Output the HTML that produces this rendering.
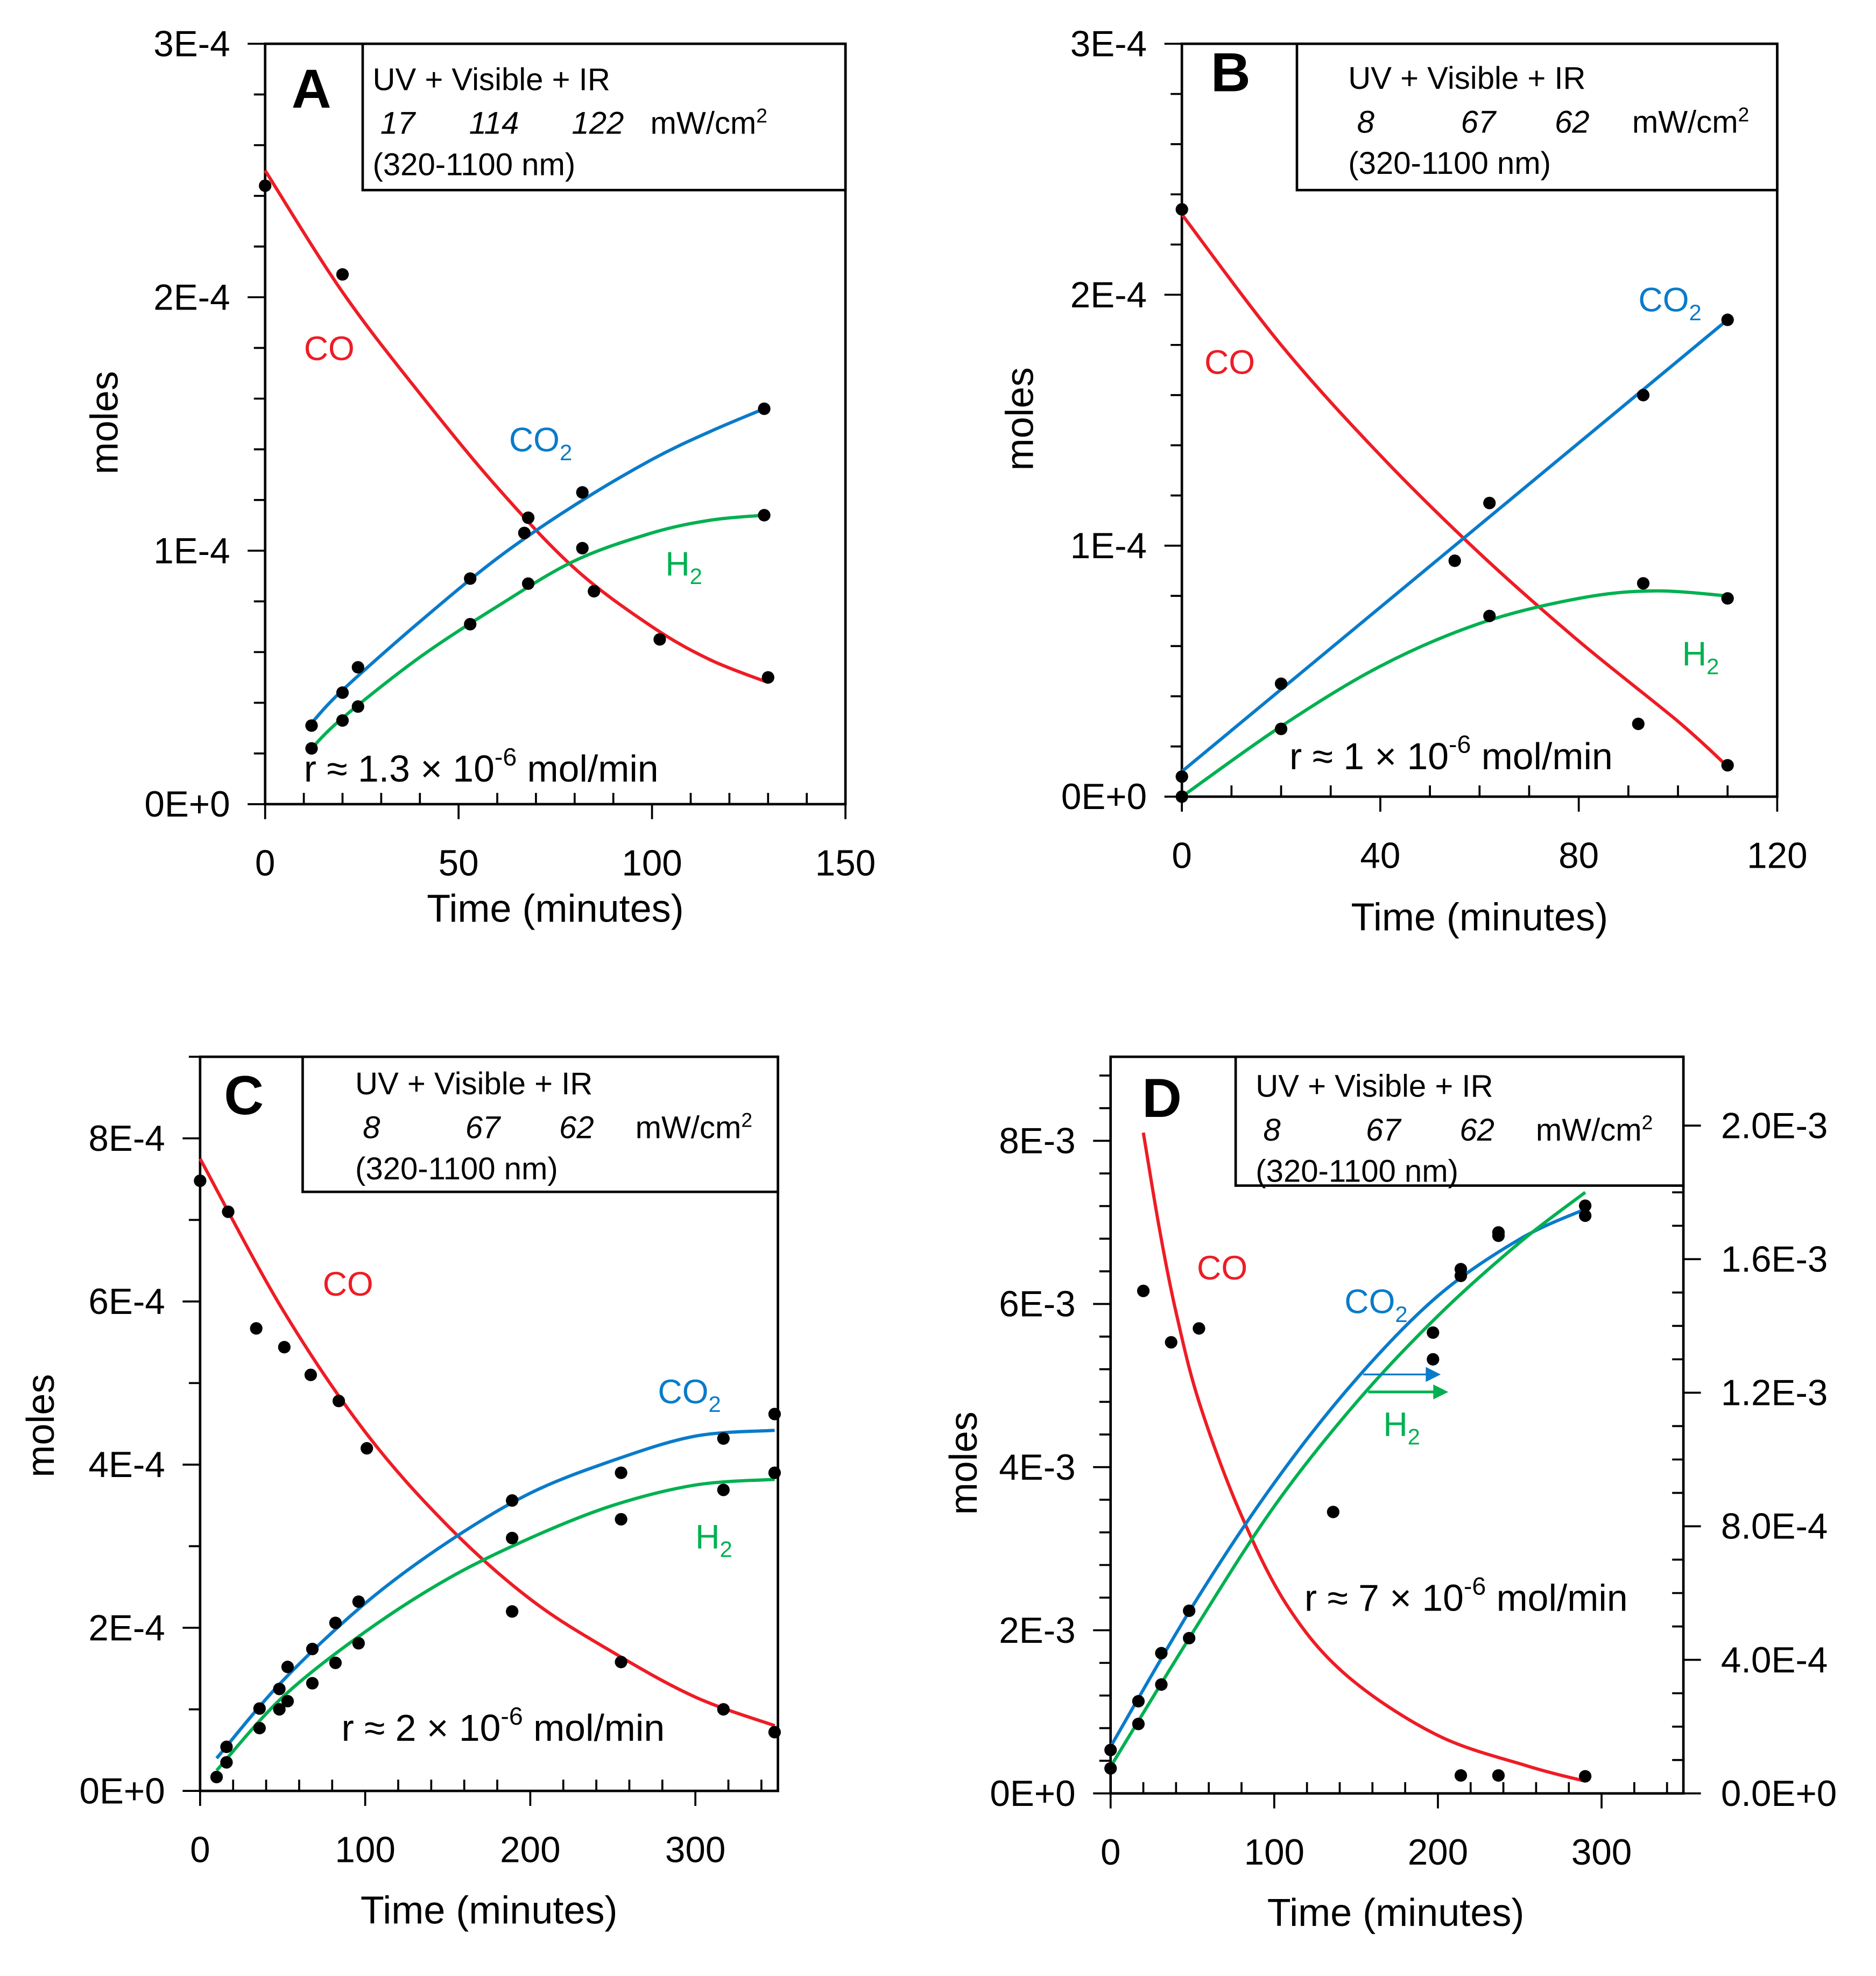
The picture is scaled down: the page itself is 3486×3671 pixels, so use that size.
<!DOCTYPE html>
<html><head><meta charset="utf-8"><style>
html,body{margin:0;padding:0;background:#fff;}
svg{display:block;font-family:"Liberation Sans",Arial,sans-serif;}
</style></head><body>
<svg id="fig" xmlns="http://www.w3.org/2000/svg" width="3486" height="3671" viewBox="0 0 1500 1580" preserveAspectRatio="none"></svg>
<script>
// ---------- DATA ----------
// Panel A (y in units of 1E-4 mol)
const aCoT=[0,20,67,85,102,130];
const aCoV=[2.44,2.09,1.07,0.84,0.65,0.50];
const aCo2T=[12,20,24,53,68,82,129];
const aCo2V=[0.31,0.44,0.54,0.89,1.13,1.23,1.56];
const aH2T=[12,20,24,53,68,82,129];
const aH2V=[0.22,0.33,0.385,0.71,0.87,1.01,1.14];
const aCoFitT=[0,20,40,60,80,100,115,130];
const aCoFitV=[2.5,2.02,1.62,1.25,0.93,0.70,0.57,0.48];
const aCo2FitT=[12,20,40,60,80,100,115,129];
const aCo2FitV=[0.32,0.45,0.72,0.97,1.18,1.36,1.47,1.56];
const aH2FitT=[12,20,40,60,80,100,115,129];
const aH2FitV=[0.22,0.34,0.58,0.78,0.96,1.07,1.12,1.14];
// Panel B (1E-4)
const bCoT=[0,55,92,110];
const bCoV=[2.34,0.94,0.29,0.125];
const bCo2T=[0,20,62,93,110];
const bCo2V=[0.08,0.45,1.17,1.60,1.90];
const bH2T=[0,20,62,93,110];
const bH2V=[0,0.27,0.72,0.85,0.79];
const bCoFitT=[0,20,40,60,80,100,110];
const bCoFitV=[2.32,1.80,1.36,0.97,0.62,0.30,0.12];
const bCo2FitT=[0,110];
const bCo2FitV=[0.10,1.90];
const bH2FitT=[0,20,40,60,80,95,110];
const bH2FitV=[0,0.28,0.52,0.69,0.79,0.82,0.80];
// Panel C (1E-4)
const cCoT=[0,17,34,51,67,84,101,189,255,317,348];
const cCoV=[7.48,7.1,5.67,5.44,5.1,4.78,4.2,2.2,1.58,1.0,0.72];
const cCo2T=[16,36,48,53,68,82,96,189,255,317,348];
const cCo2V=[0.54,1.01,1.25,1.52,1.74,2.06,2.32,3.56,3.9,4.32,4.62];
const cH2T=[10,16,36,48,53,68,82,96,189,255,317,348];
const cH2V=[0.17,0.35,0.77,1.0,1.1,1.32,1.57,1.81,3.1,3.33,3.69,3.9];
const cCoFitT=[0,50,100,150,200,250,300,348];
const cCoFitV=[7.75,5.9,4.4,3.25,2.35,1.7,1.15,0.8];
const cCo2FitT=[10,50,100,150,200,250,300,348];
const cCo2FitV=[0.4,1.35,2.3,3.05,3.65,4.05,4.35,4.42];
const cH2FitT=[10,50,100,150,200,250,300,348];
const cH2FitV=[0.25,1.15,1.95,2.6,3.1,3.5,3.75,3.82];
// Panel D (CO on left axis, 1E-3; CO2/H2 on right axis, 1E-3)
const dCoT=[20,37,54,136,214,237,290];
const dCoV=[6.16,5.53,5.70,3.45,0.22,0.22,0.21];
const dCo2T=[0,17,31,48,197,214,237,290];
const dCo2V=[0.13,0.276,0.42,0.547,1.38,1.57,1.68,1.76];
const dH2T=[0,17,31,48,197,214,237,290];
const dH2V=[0.075,0.208,0.326,0.465,1.30,1.55,1.67,1.73];
const dCoFitT=[20,30,40,54,79,108,144,199,254,290];
const dCoFitV=[8.1,6.9,5.9,4.8,3.45,2.3,1.45,0.72,0.34,0.15];
const dCo2FitT=[0,50,100,150,200,250,290];
const dCo2FitV=[0.14,0.56,0.93,1.24,1.49,1.66,1.75];
const dH2FitT=[0,50,100,150,200,250,290];
const dH2FitV=[0.08,0.48,0.86,1.17,1.43,1.65,1.80];
// Tick labels
const yLabelsA=["0E+0","1E-4","2E-4","3E-4"];
const yLabelsC=["0E+0","2E-4","4E-4","6E-4","8E-4"];
const yLabelsD=["0E+0","2E-3","4E-3","6E-3","8E-3"];
const yLabelsDRight=["0.0E+0","4.0E-4","8.0E-4","1.2E-3","1.6E-3","2.0E-3"];

// ---------- DRAW ----------
const NS="http://www.w3.org/2000/svg";
const svg=document.getElementById('fig');
const RED="#ee1c25",BLUE="#0a7bc9",GREEN="#00b050";
function mk(tag,attrs,parent){const e=document.createElementNS(NS,tag);for(const k in attrs)e.setAttribute(k,attrs[k]);(parent||svg).appendChild(e);return e;}
function smooth(pts){
  if(pts.length<3){return "M"+pts.map(p=>p[0].toFixed(1)+","+p[1].toFixed(1)).join(" L");}
  let d="M"+pts[0][0]+","+pts[0][1];
  for(let i=0;i<pts.length-1;i++){
    const p0=pts[Math.max(0,i-1)],p1=pts[i],p2=pts[i+1],p3=pts[Math.min(pts.length-1,i+2)];
    const c1=[p1[0]+(p2[0]-p0[0])/6,p1[1]+(p2[1]-p0[1])/6];
    const c2=[p2[0]-(p3[0]-p1[0])/6,p2[1]-(p3[1]-p1[1])/6];
    d+=" C"+c1[0].toFixed(1)+","+c1[1].toFixed(1)+" "+c2[0].toFixed(1)+","+c2[1].toFixed(1)+" "+p2[0].toFixed(1)+","+p2[1].toFixed(1);
  }
  return d;
}
function panel(c){
  const g=mk('g',{});
  
  
  const sx=t=>c.x0+(t-c.xmin)/(c.xmax-c.xmin)*(c.x1-c.x0);
  const sy=v=>c.yb-(v/c.ymax)*(c.yb-c.yt);
  const syR=v=>c.yb-(v/(c.ymaxR||1))*(c.yb-c.yt);
  const fr=mk('rect',{x:c.x0,y:c.yt,width:c.x1-c.x0,height:c.yb-c.yt,fill:'none',stroke:'#000','stroke-width':2},g);
  
  
  for(let v=0;v<=c.ymax+1e-9;v+=c.yMinor){
    const isMaj=Math.abs(v/c.yMajor-Math.round(v/c.yMajor))<1e-6;
    mk('line',{x1:c.x0-(isMaj?14:9),x2:c.x0,y1:sy(v),y2:sy(v),stroke:'#000','stroke-width':1.6},g);
  }
  c.yLabels.forEach((lab,i)=>{
    const t=mk('text',{x:c.x0-28,y:sy(i*c.yMajor)+10,'text-anchor':'end','font-size':29,fill:'#000'},g);
    t.textContent=lab;
    
    
  });
  if(c.ymaxR){
    for(let v=0;v<=c.ymaxR+1e-9;v+=c.yMinorR){
      const isMaj=Math.abs(v/c.yMajorR-Math.round(v/c.yMajorR))<1e-6;
      mk('line',{x1:c.x1-(isMaj?0:9),x2:c.x1+(isMaj?14:0),y1:syR(v),y2:syR(v),stroke:'#000','stroke-width':1.6},g);
    }
    c.yLabelsR.forEach((lab,i)=>{
      const t=mk('text',{x:c.x1+30,y:syR(i*c.yMajorR)+10,'text-anchor':'start','font-size':29,fill:'#000'},g);
      t.textContent=lab;
      
      
    });
  }
  for(let t=c.xmin;t<=c.xmax+1e-9;t+=c.xMinor){
    const isMaj=Math.abs(t/c.xMajor-Math.round(t/c.xMajor))<1e-6;
    if(isMaj) mk('line',{x1:sx(t),x2:sx(t),y1:c.yb,y2:c.yb+12,stroke:'#000','stroke-width':1.6},g);
    else mk('line',{x1:sx(t),x2:sx(t),y1:c.yb-9,y2:c.yb,stroke:'#000','stroke-width':1.6},g);
  }
  for(let t=c.xmin;t<=c.xlabMax+1e-9;t+=c.xMajor){
    const tx=mk('text',{x:sx(t),y:c.yb+57,'text-anchor':'middle','font-size':29,fill:'#000'},g);
    tx.textContent=String(t);
    
    
  }
  const xt=mk('text',{x:c.xtx,y:c.xty,'text-anchor':'middle','font-size':31,fill:'#000'},g);
  xt.textContent='Time (minutes)';
  
  
  const yt=mk('text',{x:0,y:0,'text-anchor':'middle','font-size':31,fill:'#000',transform:`translate(${c.ylx},${c.yly}) rotate(-90)`},g);
  yt.textContent='moles';
  
  
  const lb=mk('rect',{x:c.lg[0],y:c.lg[1],width:c.lg[2]-c.lg[0],height:c.lg[3]-c.lg[1],fill:'#fff',stroke:'#000','stroke-width':2},g);
  
  
  const l1=mk('text',{x:c.lt[0],y:c.lt[1],'font-size':25,fill:'#000'},g);l1.textContent='UV + Visible + IR';
  
  
  c.nums.forEach((n,i)=>{const e=mk('text',{x:c.numX[i],y:c.lt[1]+35,'font-size':25,'font-style':'italic','text-anchor':'middle',fill:'#000'},g);e.textContent=n;
    
    });
  const un=mk('text',{x:c.unitX,y:c.lt[1]+35,'font-size':25,fill:'#000'},g);
  un.innerHTML='mW/cm<tspan font-size="16" dy="-9">2</tspan>';
  
  
  const l3=mk('text',{x:c.lt[0],y:c.lt[1]+68,'font-size':25,fill:'#000'},g);l3.textContent='(320-1100 nm)';
  
  
  const pl=mk('text',{x:c.pl[0],y:c.pl[1],'font-size':44,'font-weight':'bold','text-anchor':'middle',fill:'#000'},g);
  pl.textContent=c.id;
  
  
  c.fits.forEach(f=>{
    const fy=f.right?syR:sy;
    const p=mk('path',{d:smooth(f.t.map((t,i)=>[sx(t),fy(f.v[i])])),fill:'none',stroke:f.col,'stroke-width':2.6},g);
    
    
  });
  c.pts.forEach(s=>{
    const fy=s.right?syR:sy;
    s.t.forEach((t,i)=>{
      const d=mk('circle',{cx:sx(t),cy:fy(s.v[i]),r:5,fill:'#000'},g);
      
      
    });
  });
  c.labels.forEach(L=>{
    const e=mk('text',{x:L.x,y:L.y,'font-size':27,fill:L.col},g);
    e.innerHTML=L.sub?L.txt+'<tspan font-size="18" dy="7">'+L.sub+'</tspan>':L.txt;
    
    
  });
  const r=mk('text',{x:c.rate[0],y:c.rate[1],'font-size':30,fill:'#000'},g);
  r.innerHTML='r ≈ '+c.rateTxt+' × 10<tspan font-size="20" dy="-13">-6</tspan><tspan dy="13"> mol/min</tspan>';
  
  
  return {g,sx,sy,syR};
}
function stdFits(p,coT,coV,c2T,c2V,hT,hV,right){
  return [{t:coT,v:coV,col:RED,name:'co-fit-curve'},{t:c2T,v:c2V,col:BLUE,name:'co2-fit-curve',right},{t:hT,v:hV,col:GREEN,name:'h2-fit-curve',right}];
}
function stdPts(coT,coV,c2T,c2V,hT,hV,right){
  return [{t:coT,v:coV,name:'co-point'},{t:c2T,v:c2V,name:'co2-point',right},{t:hT,v:hV,name:'h2-point',right}];
}
panel({id:'A',x0:212,x1:676,yb:643,yt:35,xmin:0,xmax:150,xlabMax:150,ymax:3,yMajor:1,yMinor:0.2,xMajor:50,xMinor:10,
  yLabels:yLabelsA,xtx:444,xty:737,ylx:94,yly:338,lg:[290,35,676,152],lt:[298,72],nums:['17','114','122'],numX:[318,395,478],unitX:520,
  pl:[249,86],fits:stdFits(0,aCoFitT,aCoFitV,aCo2FitT,aCo2FitV,aH2FitT,aH2FitV),pts:stdPts(aCoT,aCoV,aCo2T,aCo2V,aH2T,aH2V),
  labels:[{x:243,y:288,txt:'CO',col:RED,name:'co-label'},{x:407,y:361,txt:'CO',sub:'2',col:BLUE,name:'co2-label'},{x:532,y:460,txt:'H',sub:'2',col:GREEN,name:'h2-label'}],
  rate:[243,625],rateTxt:'1.3'});
panel({id:'B',x0:945,x1:1421,yb:637,yt:35,xmin:0,xmax:120,xlabMax:120,ymax:3,yMajor:1,yMinor:0.2,xMajor:40,xMinor:10,
  yLabels:yLabelsA,xtx:1183,xty:744,ylx:826,yly:335,lg:[1037,35,1421,152],lt:[1078,71],nums:['8','67','62'],numX:[1092,1182,1257],unitX:1305,
  pl:[984,73],fits:stdFits(0,bCoFitT,bCoFitV,bCo2FitT,bCo2FitV,bH2FitT,bH2FitV),pts:stdPts(bCoT,bCoV,bCo2T,bCo2V,bH2T,bH2V),
  labels:[{x:963,y:299,txt:'CO',col:RED,name:'co-label'},{x:1310,y:249,txt:'CO',sub:'2',col:BLUE,name:'co2-label'},{x:1345,y:532,txt:'H',sub:'2',col:GREEN,name:'h2-label'}],
  rate:[1031,615],rateTxt:'1'});
panel({id:'C',x0:160,x1:622,yb:1432,yt:845,xmin:0,xmax:350,xlabMax:300,ymax:9,yMajor:2,yMinor:1,xMajor:100,xMinor:20,
  yLabels:yLabelsC,xtx:391,xty:1538,ylx:43,yly:1140,lg:[242,845,622,953],lt:[284,875],nums:['8','67','62'],numX:[297,386,461],unitX:508,
  pl:[195,891],fits:stdFits(0,cCoFitT,cCoFitV,cCo2FitT,cCo2FitV,cH2FitT,cH2FitV),pts:stdPts(cCoT,cCoV,cCo2T,cCo2V,cH2T,cH2V),
  labels:[{x:258,y:1036,txt:'CO',col:RED,name:'co-label'},{x:526,y:1122,txt:'CO',sub:'2',col:BLUE,name:'co2-label'},{x:556,y:1238,txt:'H',sub:'2',col:GREEN,name:'h2-label'}],
  rate:[273,1392],rateTxt:'2'});
const pd=panel({id:'D',x0:888,x1:1346,yb:1434,yt:845,xmin:0,xmax:350,xlabMax:300,ymax:9.03,yMajor:2,yMinor:0.4,xMajor:100,xMinor:20,
  ymaxR:2.206,yMajorR:0.4,yMinorR:0.1,yLabelsR:yLabelsDRight,
  yLabels:yLabelsD,xtx:1116,xty:1540,ylx:781,yly:1170,lg:[988,845,1346,948],lt:[1004,877],nums:['8','67','62'],numX:[1017,1106,1181],unitX:1228,
  pl:[929,893],fits:stdFits(0,dCoFitT,dCoFitV,dCo2FitT,dCo2FitV,dH2FitT,dH2FitV,true),pts:stdPts(dCoT,dCoV,dCo2T,dCo2V,dH2T,dH2V,true),
  labels:[{x:957,y:1023,txt:'CO',col:RED,name:'co-label'},{x:1075,y:1050,txt:'CO',sub:'2',col:BLUE,name:'co2-label'},{x:1106,y:1148,txt:'H',sub:'2',col:GREEN,name:'h2-label'}],
  rate:[1043,1288],rateTxt:'7'});
[[1090,1099,1152,BLUE,1.5,'co2-right-axis-arrow'],[1094,1113,1158,GREEN,2.2,'h2-right-axis-arrow']].forEach(a=>{
  const ln=mk('line',{x1:a[0],y1:a[1],x2:a[2]-8,y2:a[1],stroke:a[3],'stroke-width':a[4]},pd.g);
  
  
  const hd=mk('polygon',{points:`${a[2]},${a[1]} ${a[2]-12},${a[1]-6} ${a[2]-12},${a[1]+6}`,fill:a[3]},pd.g);
  
  
});
</script>
</body></html>
